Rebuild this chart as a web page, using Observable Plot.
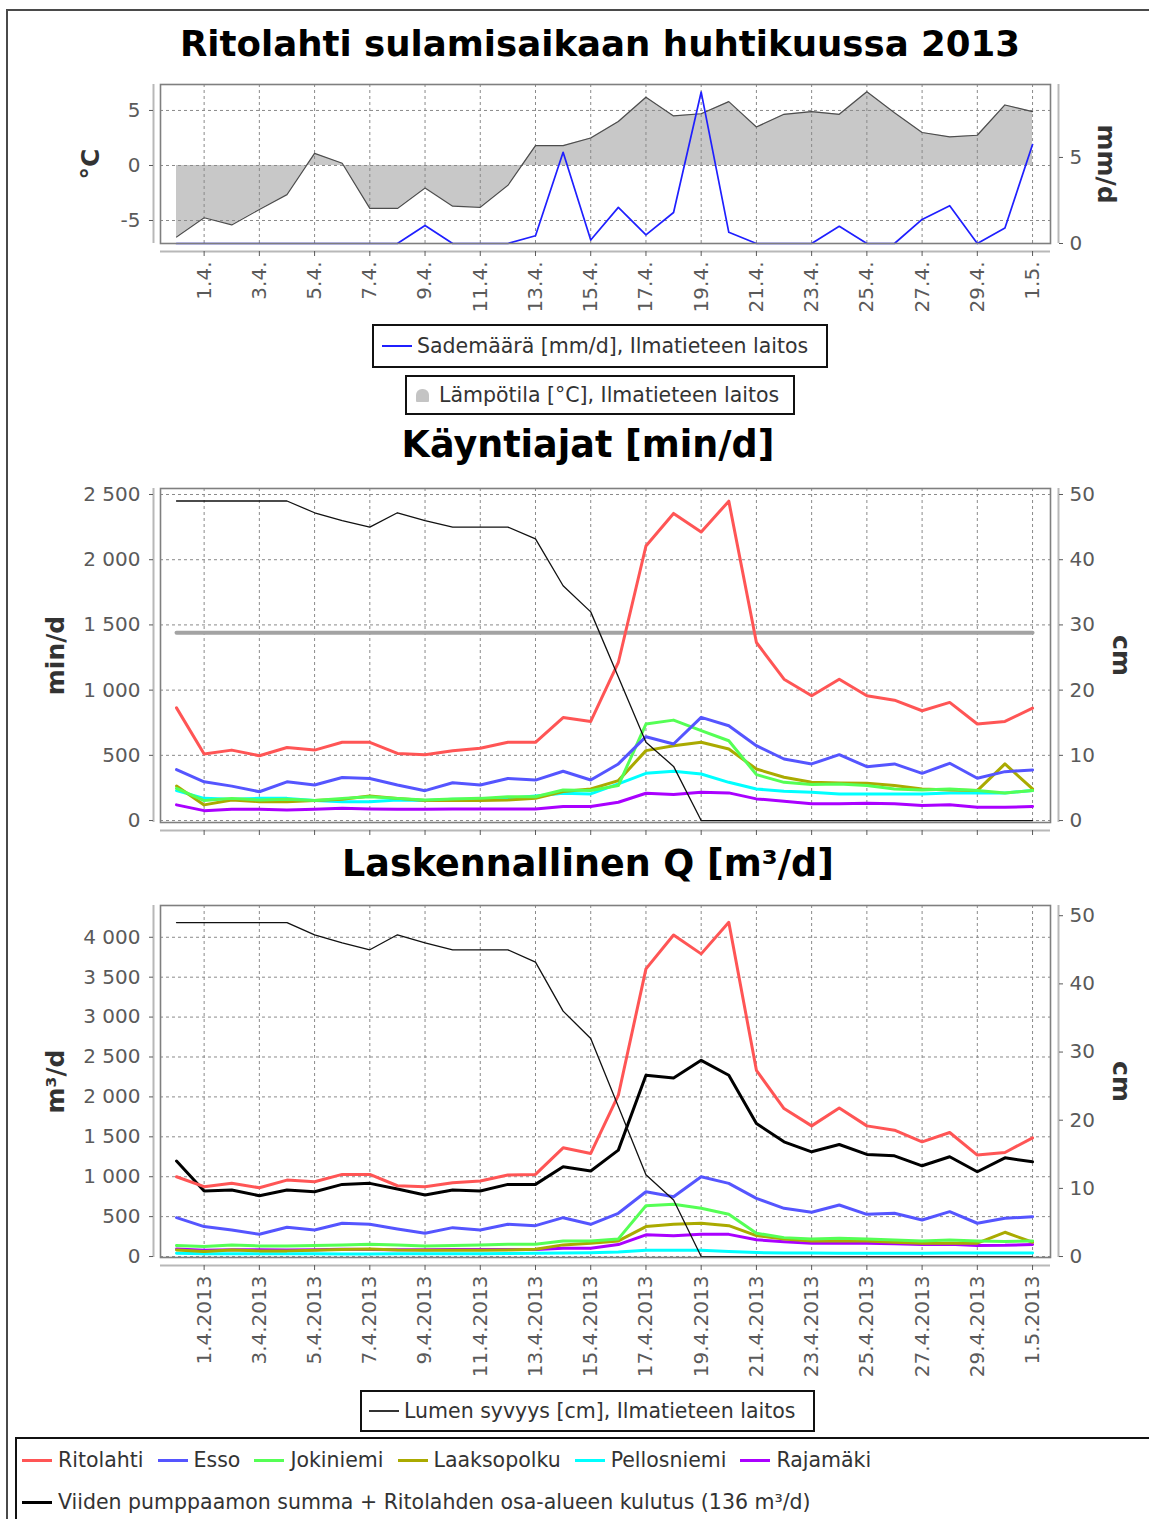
<!DOCTYPE html>
<html lang="fi">
<head>
<meta charset="utf-8">
<title>Ritolahti sulamisaikaan huhtikuussa 2013</title>
<script src="https://cdn.jsdelivr.net/npm/d3@7"></script>
<script src="https://cdn.jsdelivr.net/npm/@observablehq/plot@0.6"></script>
<style>
html,body{margin:0;padding:0;background:#fff;}
#page{position:relative;width:1149px;height:1519px;overflow:hidden;background:#fff;font-family:"DejaVu Sans",Verdana,sans-serif;color:#222;}
#outer{position:absolute;left:6px;top:9px;width:1300px;height:1700px;border:2px solid #4a4a4a;box-sizing:border-box;}
.title{position:absolute;width:1000px;text-align:center;font-weight:bold;font-size:36.5px;line-height:36.5px;color:#000;white-space:nowrap;}
.chart{position:absolute;left:0;}
.chart svg{display:block;overflow:visible;}
.box{position:absolute;border:2px solid #111;box-sizing:border-box;display:flex;align-items:center;font-size:20.5px;color:#333;white-space:nowrap;background:#fff;}
.row{position:absolute;display:flex;align-items:center;font-size:20.5px;color:#333;white-space:nowrap;height:26px;}
.sw{display:inline-block;width:30px;height:3px;margin-right:6px;flex:none;}
.item{display:flex;align-items:center;margin-right:14px;}
.icon{display:inline-block;width:13px;height:13px;background:#c4c4c4;border-radius:6px 6px 1px 1px;margin-right:10px;}
</style>
</head>
<body>
<div id="page">
  <div id="outer"></div>
  <div class="title" style="left:100px;top:26px;font-size:35.6px;">Ritolahti sulamisaikaan huhtikuussa 2013</div>
  <div class="chart" id="c1" style="top:70px;"></div>
  <div class="box" style="left:372px;top:324px;width:456px;height:44px;padding-left:8px;"><span class="sw" style="background:#1f1fff;height:2px;margin-right:5px;"></span><span id="lgRain"></span></div>
  <div class="box" style="left:405px;top:375px;width:390px;height:40px;padding-left:9px;"><span class="icon"></span><span id="lgTemp"></span></div>
  <div class="title" style="left:88px;top:427px;">Käyntiajat [min/d]</div>
  <div class="chart" id="c2" style="top:470px;"></div>
  <div class="title" style="left:88px;top:846px;">Laskennallinen Q [m³/d]</div>
  <div class="chart" id="c3" style="top:890px;"></div>
  <div class="box" style="left:360px;top:1390px;width:455px;height:42px;padding-left:7px;"><span class="sw" style="background:#333;height:2px;margin-right:5px;"></span><span id="lgSnow"></span></div>
  <div class="box" style="left:15px;top:1437px;width:1200px;height:120px;border-width:2px;"></div>
  <div class="row" id="legendRow1" style="left:22px;top:1447px;"></div>
  <div class="row" id="legendRow2" style="left:22px;top:1489px;"></div>
</div>
<script>
// ---------- categories ----------
const dates = ["2013-03-31","2013-04-01","2013-04-02","2013-04-03","2013-04-04","2013-04-05","2013-04-06","2013-04-07",
  "2013-04-08","2013-04-09","2013-04-10","2013-04-11","2013-04-12","2013-04-13","2013-04-14","2013-04-15",
  "2013-04-16","2013-04-17","2013-04-18","2013-04-19","2013-04-20","2013-04-21","2013-04-22","2013-04-23",
  "2013-04-24","2013-04-25","2013-04-26","2013-04-27","2013-04-28","2013-04-29","2013-04-30","2013-05-01"];

// ---------- tick labels ----------
const tickDates = ["2013-04-01","2013-04-03","2013-04-05","2013-04-07","2013-04-09","2013-04-11","2013-04-13","2013-04-15",
  "2013-04-17","2013-04-19","2013-04-21","2013-04-23","2013-04-25","2013-04-27","2013-04-29","2013-05-01"];
const topTickLabels = ["1.4.","3.4.","5.4.","7.4.","9.4.","11.4.","13.4.","15.4.","17.4.","19.4.","21.4.","23.4.","25.4.","27.4.","29.4.","1.5."];
const bottomTickLabels = ["1.4.2013","3.4.2013","5.4.2013","7.4.2013","9.4.2013","11.4.2013","13.4.2013","15.4.2013",
  "17.4.2013","19.4.2013","21.4.2013","23.4.2013","25.4.2013","27.4.2013","29.4.2013","1.5.2013"];
const tempTicks = [-5, 0, 5];
const rainTicks = [0, 5];
const minuteTicks = [0, 500, 1000, 1500, 2000, 2500];
const flowTicks = [0, 500, 1000, 1500, 2000, 2500, 3000, 3500, 4000];
const snowTicks = [0, 10, 20, 30, 40, 50];

// ---------- weather (Ilmatieteen laitos) ----------
const temperature = [-6.5,-4.75,-5.4,-4.0,-2.65,1.1,0.2,-3.9,-3.9,-2.05,-3.7,-3.8,-1.8,1.8,1.8,2.5,
  4.0,6.2,4.5,4.7,5.8,3.5,4.65,4.9,4.65,6.7,4.8,3.0,2.6,2.75,5.5,4.9];
const precipitation = [0,0,0,0,0,0,0,0,0,1.05,0,0,0,0.45,5.3,0.2,
  2.1,0.5,1.8,8.8,0.65,0,0,0,1.0,0,0,1.4,2.2,0,0.9,5.75];
const snowDepth = [49,49,49,49,49,47.2,46,45,47.2,46,45,45,45,43.2,36,32,
  22,12,8.3,0,0,0,0,0,0,0,0,0,0,0,0,0];
const maxMinutesPerDay = 1440;

// ---------- running times [min/d] ----------
const ritolahtiMin = [864,510,540,497,560,540,600,600,515,505,535,555,600,600,790,760,1212,2105,2355,2212,2449,1365,1084,957,1084,957,923,842,906,740,760,862];
const essoMin = [391,297,264,221,297,272,330,323,272,229,290,272,323,310,378,311,434,643,587,791,727,574,472,434,505,413,434,362,439,324,375,388];
const jokiniemiMin = [247,153,170,158,163,153,170,183,170,158,165,170,183,183,234,230,268,740,770,689,612,352,293,276,281,268,242,235,242,230,212,230];
const laaksopolkuMin = [265,120,158,145,145,153,163,188,170,153,153,153,158,170,222,242,306,536,574,600,548,395,332,293,288,286,268,242,235,230,434,242];
const pellosniemiMin = [229,170,163,170,170,153,145,145,158,153,163,163,170,188,209,204,281,362,378,357,293,242,224,217,204,204,204,204,212,212,212,230];
const rajamakiMin = [120,76,86,86,81,86,94,89,86,86,89,89,89,89,107,107,140,209,199,217,212,166,148,128,128,133,128,115,122,102,102,107];

// ---------- computed flow [m3/d] ----------
const ritolahtiQ = [1000,875,917,862,958,937,1029,1029,887,875,925,946,1021,1029,1362,1292,2021,3604,4029,3792,4187,2333,1854,1637,1862,1637,1583,1437,1554,1271,1304,1487];
const essoQ = [487,375,333,279,367,333,417,404,346,292,362,333,404,387,487,404,542,812,750,1000,917,729,604,554,646,529,542,458,562,417,479,500];
const jokiniemiQ = [137,125,146,133,133,137,146,154,146,133,137,146,154,154,196,196,221,637,654,604,529,292,237,221,229,221,208,196,208,196,187,196];
const laaksopolkuQ = [83,62,83,71,71,79,87,96,83,79,79,79,83,92,146,167,196,375,404,417,387,262,221,196,196,196,179,167,167,167,304,179];
const pellosniemiQ = [40,35,36,36,36,34,33,33,35,34,36,36,37,40,45,48,58,78,80,78,62,50,45,44,42,42,42,42,43,43,43,45];
const rajamakiQ = [95,80,85,85,83,85,90,88,85,85,88,88,88,88,105,105,150,272,260,280,278,210,185,165,165,168,160,150,155,138,140,150];
const sumQ = [1196,821,833,762,833,812,904,917,846,771,833,821,904,904,1125,1071,1333,2271,2238,2458,2271,1667,1437,1312,1404,1279,1262,1137,1250,1062,1237,1187];

// ---------- series names / colours / legend texts ----------
const seriesNames = ["Ritolahti","Esso","Jokiniemi","Laaksopolku","Pellosniemi","Rajamäki"];
const seriesColors = ["#ff5555","#5555ff","#55ff55","#aaaa00","#00ffff","#aa00ff"];
const minuteSeries = [ritolahtiMin, essoMin, jokiniemiMin, laaksopolkuMin, pellosniemiMin, rajamakiMin];
const flowSeries = [ritolahtiQ, essoQ, jokiniemiQ, laaksopolkuQ, pellosniemiQ, rajamakiQ];
const sumName = "Viiden pumppaamon summa + Ritolahden osa-alueen kulutus (136 m³/d)";
const rainName = "Sademäärä [mm/d], Ilmatieteen laitos";
const tempName = "Lämpötila [°C], Ilmatieteen laitos";
const snowName = "Lumen syvyys [cm], Ilmatieteen laitos";

// ---------- helpers ----------
const parse = d3.utcParse("%Y-%m-%d");
const xs = dates.map(parse);
const DAY = 864e5;
const xDomain = [new Date(+xs[0] - 0.58 * DAY), new Date(+xs[xs.length - 1] + 0.65 * DAY)];
const tickXs = tickDates.map(parse);
const topLabelOf = new Map(tickXs.map((d, i) => [+d, topTickLabels[i]]));
const bottomLabelOf = new Map(tickXs.map((d, i) => [+d, bottomTickLabels[i]]));
const fi = d3.formatLocale({decimal: ",", thousands: "\u00a0", grouping: [3], currency: ["", " €"]}).format(",d");
const fmt = d => (d < 0 ? "-" : "") + fi(Math.abs(d));
const rowsOf = values => values.map((v, i) => ({date: xs[i], value: v}));

const gridStyle = {stroke: "#8a8a8a", strokeOpacity: 1, strokeWidth: 1, strokeDasharray: "3,3"};
const baseStyle = {fontFamily: '"DejaVu Sans", sans-serif', fontSize: "20px", color: "#5a5a5a", background: "transparent", overflow: "visible"};
const W = 1149, ML = 160, MR = 99;

function decor(yMin) {
  return [
    Plot.frame({stroke: "#7f7f7f", strokeWidth: 1.6}),
    Plot.ruleY([yMin], {dy: 8, stroke: "#b8b8b8", strokeWidth: 2}),
    Plot.ruleX([xDomain[0]], {dx: -7, stroke: "#b8b8b8", strokeWidth: 2}),
    Plot.ruleX([xDomain[1]], {dx: 8, stroke: "#b8b8b8", strokeWidth: 2})
  ];
}
const axisTitle = (label, side, dx) => Plot.text([label], {
  text: d => d, frameAnchor: side, dx, rotate: side === "left" ? -90 : 90,
  textAnchor: "middle", lineAnchor: "middle",
  fontWeight: "bold", fontSize: 25, fill: "#333"
});
const seriesLine = (values, color, width) => Plot.lineY(rowsOf(values), {
  x: "date", y: "value", stroke: color, strokeWidth: width, strokeLinejoin: "round", strokeLinecap: "round"
});

// ---------- top: temperature & precipitation ----------
const C0 = -7.09, C1 = 7.36, C_PER_MM = 1.564;
const mmToC = mm => C0 + mm * C_PER_MM;
const cToMm = c => (c - C0) / C_PER_MM;
const weatherRows = xs.map((date, i) => ({date, temp: temperature[i], rain: precipitation[i]}));

const chart1 = Plot.plot({
  width: W, height: 250, marginTop: 14, marginRight: MR, marginBottom: 77, marginLeft: ML,
  style: baseStyle,
  x: {type: "utc", domain: xDomain},
  y: {domain: [C0, C1]},
  marks: [
    Plot.area(weatherRows, {x1: "date", y1: 0, y2: "temp", fill: "#c8c8c8"}),
    Plot.gridX(tickXs, gridStyle),
    Plot.gridY(tempTicks, gridStyle),
    Plot.lineY(weatherRows, {x: "date", y: "temp", stroke: "#4d4d4d", strokeWidth: 1.2}),
    Plot.lineY(weatherRows, {x: "date", y: d => mmToC(d.rain), stroke: "#1f1fff", strokeWidth: 1.7}),
    ...decor(C0),
    Plot.axisY({anchor: "left", ticks: tempTicks, tickFormat: fmt, tickSize: 4, dx: -7, tickPadding: 9, label: null}),
    Plot.axisY({anchor: "right", ticks: rainTicks.map(mmToC), tickFormat: v => fmt(Math.round(cToMm(v))), tickSize: 4, dx: 8, tickPadding: 7, label: null}),
    Plot.axisX({ticks: tickXs, tickFormat: d => topLabelOf.get(+d), tickRotate: -90, tickSize: 5, dy: 8, tickPadding: 5, label: null}),
    axisTitle("°C", "left", -70),
    axisTitle("mm/d", "right", 55)
  ]
});
document.getElementById("c1").append(chart1);

// ---------- middle: running times ----------
const MIN_PER_CM = 50;
const chart2 = Plot.plot({
  width: W, height: 375, marginTop: 18, marginRight: MR, marginBottom: 23, marginLeft: ML,
  style: baseStyle,
  x: {type: "utc", domain: xDomain},
  y: {domain: [-15, 2546]},
  marks: [
    Plot.gridX(tickXs, gridStyle),
    Plot.gridY(minuteTicks, gridStyle),
    Plot.lineY(xs, {x: d => d, y: () => maxMinutesPerDay, stroke: "#a3a3a3", strokeWidth: 4}),
    ...minuteSeries.map((v, k) => seriesLine(v, seriesColors[k], 3)).reverse(),
    Plot.lineY(rowsOf(snowDepth), {x: "date", y: d => d.value * MIN_PER_CM, stroke: "#111", strokeWidth: 1.3}),
    ...decor(-15),
    Plot.axisY({anchor: "left", ticks: minuteTicks, tickFormat: fmt, tickSize: 4, dx: -7, tickPadding: 9, label: null}),
    Plot.axisY({anchor: "right", ticks: snowTicks.map(c => c * MIN_PER_CM), tickFormat: v => fmt(Math.round(v / MIN_PER_CM)), tickSize: 4, dx: 8, tickPadding: 7, label: null}),
    Plot.axisX({ticks: tickXs, tickFormat: () => "", tickSize: 5, dy: 8, label: null}),
    axisTitle("min/d", "left", -105),
    axisTitle("cm", "right", 70)
  ]
});
document.getElementById("c2").append(chart2);

// ---------- bottom: computed flow ----------
const Q_PER_CM = 85.4;
const chart3 = Plot.plot({
  width: W, height: 490, marginTop: 15, marginRight: MR, marginBottom: 123, marginLeft: ML,
  style: baseStyle,
  x: {type: "utc", domain: xDomain},
  y: {domain: [-12, 4398]},
  marks: [
    Plot.gridX(tickXs, gridStyle),
    Plot.gridY(flowTicks, gridStyle),
    seriesLine(sumQ, "#000", 3),
    ...flowSeries.map((v, k) => seriesLine(v, seriesColors[k], 3)).reverse(),
    Plot.lineY(rowsOf(snowDepth), {x: "date", y: d => d.value * Q_PER_CM, stroke: "#111", strokeWidth: 1.3}),
    ...decor(-12),
    Plot.axisY({anchor: "left", ticks: flowTicks, tickFormat: fmt, tickSize: 4, dx: -7, tickPadding: 9, label: null}),
    Plot.axisY({anchor: "right", ticks: snowTicks.map(c => c * Q_PER_CM), tickFormat: v => fmt(Math.round(v / Q_PER_CM)), tickSize: 4, dx: 8, tickPadding: 7, label: null}),
    Plot.axisX({ticks: tickXs, tickFormat: d => bottomLabelOf.get(+d), tickRotate: -90, tickSize: 5, dy: 8, tickPadding: 5, label: null}),
    axisTitle("m³/d", "left", -105),
    axisTitle("cm", "right", 70)
  ]
});
document.getElementById("c3").append(chart3);

// ---------- legends ----------
document.getElementById("lgRain").textContent = rainName;
document.getElementById("lgTemp").textContent = tempName;
document.getElementById("lgSnow").textContent = snowName;
const row1 = document.getElementById("legendRow1");
seriesNames.forEach((name, k) => {
  const item = document.createElement("span");
  item.className = "item";
  item.innerHTML = `<span class="sw" style="background:${seriesColors[k]}"></span><span></span>`;
  item.lastChild.textContent = name;
  row1.append(item);
});
const row2 = document.getElementById("legendRow2");
const sumItem = document.createElement("span");
sumItem.className = "item";
sumItem.innerHTML = `<span class="sw" style="background:#000"></span><span></span>`;
sumItem.lastChild.textContent = sumName;
row2.append(sumItem);
</script>
</body>
</html>
